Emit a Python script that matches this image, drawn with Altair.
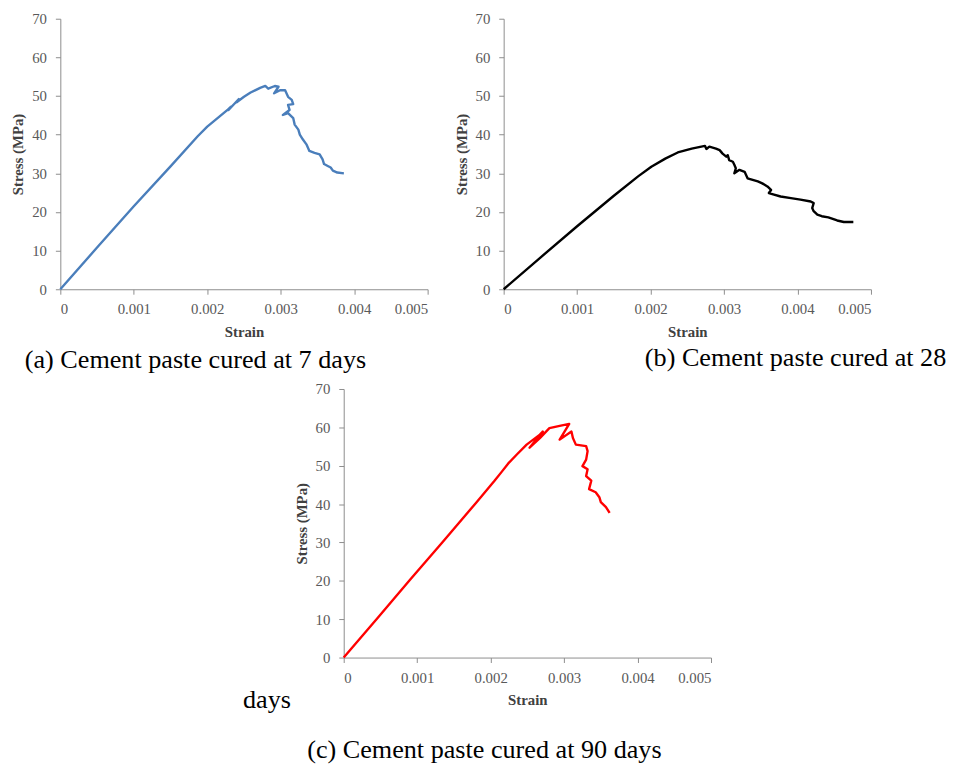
import altair as alt
import pandas as pd

# ---------------- data ----------------
a_strain = [0, 0.0005, 0.001, 0.0015, 0.00187, 0.00200, 0.00214, 0.00228, 0.00232, 0.00229, 0.00236,
            0.00243, 0.00240, 0.00250, 0.00259, 0.00272, 0.00279, 0.00283, 0.00292, 0.00297,
            0.00291, 0.00299, 0.00306, 0.00310, 0.00315, 0.00317, 0.00310, 0.00312, 0.00303,
            0.00310, 0.00317, 0.00319, 0.00324, 0.00326, 0.00330, 0.00335, 0.00339, 0.00346,
            0.00353, 0.00357, 0.00359, 0.00364, 0.00368, 0.00371, 0.00377, 0.00386]
a_stress = [0, 10.8, 21.5, 31.8, 39.6, 42.1, 44.3, 46.5, 47.2, 46.4, 47.8,
            49.2, 48.4, 49.8, 50.9, 52.1, 52.6, 51.9, 52.6, 52.4,
            50.7, 51.5, 51.5, 49.8, 49.0, 47.9, 47.7, 46.4, 45.1,
            45.6, 44.3, 42.6, 41.3, 40.0, 38.8, 37.5, 35.8, 35.3,
            34.9, 33.6, 32.4, 31.9, 31.5, 30.7, 30.2, 30.0]

b_strain = [0, 0.0005, 0.001, 0.0015, 0.00183, 0.00201, 0.00220, 0.00237, 0.00256, 0.00274,
            0.00276, 0.00280, 0.00289, 0.00294, 0.00298, 0.00303, 0.00305, 0.00307, 0.00312,
            0.00314, 0.00316, 0.00314, 0.00321, 0.00328, 0.00332, 0.00339, 0.00346, 0.00352,
            0.00359, 0.00364, 0.00361, 0.00368, 0.00377, 0.00391, 0.00404, 0.00418, 0.00422,
            0.00420, 0.00422, 0.00427, 0.00433, 0.00442, 0.00454, 0.00463, 0.00476]
b_stress = [0, 8.2, 16.3, 24.2, 29.2, 31.7, 33.8, 35.4, 36.4, 37.1,
            36.3, 36.9, 36.4, 36.0, 35.1, 34.3, 34.7, 33.4, 33.0,
            32.2, 31.3, 30.0, 30.9, 30.4, 28.7, 28.3, 27.9, 27.4,
            26.6, 25.7, 24.9, 24.5, 24.0, 23.6, 23.2, 22.7, 22.3,
            21.0, 20.2, 19.3, 18.9, 18.6, 17.8, 17.4, 17.4]

c_strain = [0, 0.00047, 0.0009, 0.00135, 0.0018, 0.00205, 0.00215, 0.00224, 0.00236, 0.00249, 0.00267,
            0.00271, 0.00253, 0.00267, 0.00280, 0.00294, 0.00307, 0.00294, 0.00310, 0.00312,
            0.00316, 0.00330, 0.00332, 0.00330, 0.00325, 0.00332, 0.00330, 0.00337, 0.00334,
            0.00343, 0.00348, 0.00350, 0.00357, 0.00362]
c_stress = [0, 10.5, 20.2, 30.2, 40.3, 46.0, 48.4, 50.6, 53.0, 55.5, 58.1,
            58.9, 54.7, 57.2, 59.8, 60.4, 60.9, 56.8, 58.9, 57.2,
            55.5, 55.1, 53.8, 51.6, 49.9, 49.1, 47.3, 46.1, 43.9,
            43.1, 41.8, 40.5, 39.2, 37.7]

x_ticks = [0, 0.001, 0.002, 0.003, 0.004, 0.005]
y_ticks = [0, 10, 20, 30, 40, 50, 60, 70]
x_title = "Strain"
y_title = "Stress (MPa)"
captions = ["(a) Cement paste cured at 7 days", "(b) Cement paste cured at 28",
            "days", "(c) Cement paste cured at 90 days"]
colors = ["#4A7EBB", "#000000", "#FF0000"]

SERIF = "Liberation Serif"
CAP_SIZE = 26.5


def panel(strain, stress, color, w, h, caption, cap_x, cap_y):
    df = pd.DataFrame({"strain": strain, "stress": stress, "i": list(range(len(strain)))})
    line = alt.Chart(df).mark_line(color=color, strokeWidth=2.4, strokeJoin="round").encode(
        x=alt.X("strain:Q",
                scale=alt.Scale(domain=[0, 0.005], nice=False, zero=True),
                axis=alt.Axis(values=x_ticks, format=".3~f", title=x_title,
                              titleX=w / 2, titleY=43, titleBaseline="middle",
                              titleAlign="center")),
        y=alt.Y("stress:Q",
                scale=alt.Scale(domain=[0, 70], nice=False),
                axis=alt.Axis(values=y_ticks, title=y_title,
                              titleX=-43, titleY=h / 2, titleBaseline="middle",
                              titleAlign="center", titleAngle=270)),
        order=alt.Order("i:Q"),
    )
    cap = alt.Chart(pd.DataFrame({"t": [caption]})).mark_text(
        font=SERIF, fontSize=CAP_SIZE, align="left", baseline="middle", color="#000000"
    ).encode(x=alt.value(cap_x), y=alt.value(cap_y), text="t:N")
    return alt.layer(line, cap).properties(width=w, height=h)


A = panel(a_strain, a_stress, colors[0], 372, 274, captions[0], -36, 346)
B = panel(b_strain, b_stress, colors[1], 372, 274, captions[1], 143, 344)
C = panel(c_strain, c_stress, colors[2], 372, 272, captions[3], -37, 366)

# left cell of the bottom row: holds the wrapped word "days"
S = alt.Chart(pd.DataFrame({"t": [captions[2]]})).mark_text(
    font=SERIF, fontSize=CAP_SIZE, align="left", baseline="middle", color="#000000"
).encode(x=alt.value(185), y=alt.value(315), text="t:N").properties(width=287, height=272)

top = alt.hconcat(A, B, spacing=77, bounds="flush")
bottom = alt.hconcat(S, C, spacing=0, bounds="flush")

chart = alt.vconcat(top, bottom, spacing=8).properties(
    padding={"left": 3, "top": -1, "right": 0, "bottom": 0}
).configure_view(stroke=None).configure_axis(
    grid=False,
    domainColor="#8c8c8c",
    tickColor="#8c8c8c",
    tickSize=5,
    labelFont=SERIF,
    labelFontSize=15,
    labelColor="#595959",
    titleFont=SERIF,
    titleFontSize=15,
    titleFontWeight="bold",
    titleColor="#404040",
).configure_axisX(labelPadding=8).configure_axisY(labelPadding=9)

chart.save("out.html", embed_options={"renderer": "svg", "actions": False})
